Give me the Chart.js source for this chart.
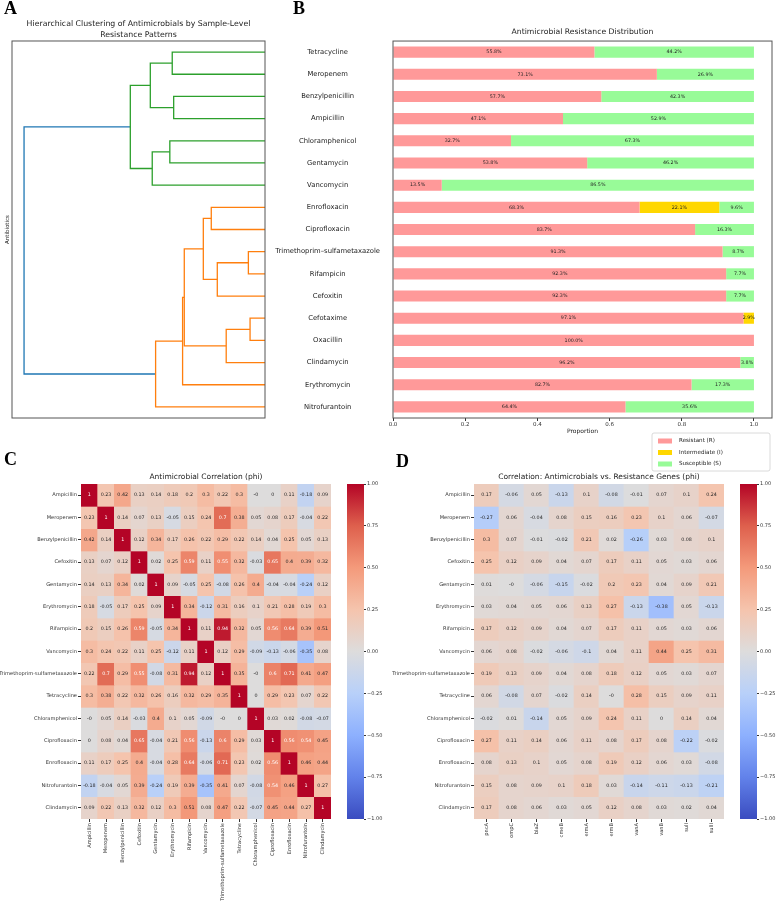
<!DOCTYPE html>
<html>
<head>
<meta charset="utf-8">
<title>Antimicrobial resistance figure</title>
<script src="https://cdn.jsdelivr.net/npm/chart.js@4.4.1/dist/chart.umd.min.js"></script>
<style>
  body { margin: 0; background: #fff; }
  #page { position: relative; width: 776px; height: 901px; overflow: hidden; }
  .panel { position: absolute; }
  .tag { position: absolute; font: bold 18px "Liberation Serif", "DejaVu Serif", serif; line-height: 1; color: #000; }
</style>
</head>
<body>
<div id="page">
  <div class="panel" style="left:0;top:0;width:275px;height:425px"><canvas id="dendro"></canvas></div>
  <div class="panel" style="left:270px;top:0;width:506px;height:480px"><canvas id="bars"></canvas></div>
  <div class="panel" style="left:0;top:440px;width:390px;height:461px"><canvas id="heatC"></canvas></div>
  <div class="panel" style="left:340px;top:440px;width:50px;height:461px"><canvas id="cbarC"></canvas></div>
  <div class="panel" style="left:390px;top:440px;width:386px;height:461px"><canvas id="heatD"></canvas></div>
  <div class="panel" style="left:733px;top:440px;width:43px;height:461px"><canvas id="cbarD"></canvas></div>
  <div class="tag" style="left:4px;top:-1px">A</div>
  <div class="tag" style="left:293px;top:-1px">B</div>
  <div class="tag" style="left:4px;top:450px">C</div>
  <div class="tag" style="left:396px;top:452px">D</div>
</div>
<script>
// panel A / B order (top to bottom)
const abxOrder = ['Tetracycline', 'Meropenem', 'Benzylpenicillin', 'Ampicillin', 'Chloramphenicol', 'Gentamycin',
  'Vancomycin', 'Enrofloxacin', 'Ciprofloxacin', 'Trimethoprim\u2013sulfametaxazole', 'Rifampicin', 'Cefoxitin',
  'Cefotaxime', 'Oxacillin', 'Clindamycin', 'Erythromycin', 'Nitrofurantoin'];
const resistantPct    = [55.8, 73.1, 57.7, 47.1, 32.7, 53.8, 13.5, 68.3, 83.7, 91.3, 92.3, 92.3, 97.1, 100.0, 96.2, 82.7, 64.4];
const intermediatePct = [0, 0, 0, 0, 0, 0, 0, 22.1, 0, 0, 0, 0, 2.9, 0, 0, 0, 0];
const susceptiblePct  = [44.2, 26.9, 42.3, 52.9, 67.3, 46.2, 86.5, 9.6, 16.3, 8.7, 7.7, 7.7, 0, 0, 3.8, 17.3, 35.6];
const propTicks = [0, 0.2, 0.4, 0.6, 0.8, 1.0];

// dendrogram merges: [left, right, height], leaves 0-16 follow abxOrder, new clusters get ids from 17
const merges = [
  [12, 13, 0.062], [9, 10, 0.069], [17, 14, 0.161], [18, 11, 0.198], [7, 8, 0.223],
  [21, 20, 0.256], [22, 19, 0.335], [23, 15, 0.342], [2, 3, 0.379], [0, 1, 0.385],
  [4, 5, 0.395], [24, 16, 0.454], [27, 6, 0.468], [26, 25, 0.476], [30, 29, 0.559], [31, 28, 1.0]
];
const mergeCluster = ['o', 'o', 'o', 'o', 'o', 'o', 'o', 'o', 'g', 'g', 'g', 'o', 'g', 'g', 'g', 'b'];

// panel C
const abxC = ['Ampicillin', 'Meropenem', 'Benzylpenicillin', 'Cefoxitin', 'Gentamycin', 'Erythromycin', 'Rifampicin',
  'Vancomycin', 'Trimethoprim-sulfametaxazole', 'Tetracycline', 'Chloramphenicol', 'Ciprofloxacin', 'Enrofloxacin',
  'Nitrofurantoin', 'Clindamycin'];
const phiC = [
  [1, 0.23, 0.42, 0.13, 0.14, 0.18, 0.2, 0.3, 0.22, 0.3, -0, 0, 0.11, -0.18, 0.09],
  [0.23, 1, 0.14, 0.07, 0.13, -0.05, 0.15, 0.24, 0.7, 0.38, 0.05, 0.08, 0.17, -0.04, 0.22],
  [0.42, 0.14, 1, 0.12, 0.34, 0.17, 0.26, 0.22, 0.29, 0.22, 0.14, 0.04, 0.25, 0.05, 0.13],
  [0.13, 0.07, 0.12, 1, 0.02, 0.25, 0.59, 0.11, 0.55, 0.32, -0.03, 0.65, 0.4, 0.39, 0.32],
  [0.14, 0.13, 0.34, 0.02, 1, 0.09, -0.05, 0.25, -0.08, 0.26, 0.4, -0.04, -0.04, -0.24, 0.12],
  [0.18, -0.05, 0.17, 0.25, 0.09, 1, 0.34, -0.12, 0.31, 0.16, 0.1, 0.21, 0.28, 0.19, 0.3],
  [0.2, 0.15, 0.26, 0.59, -0.05, 0.34, 1, 0.11, 0.94, 0.32, 0.05, 0.56, 0.64, 0.39, 0.51],
  [0.3, 0.24, 0.22, 0.11, 0.25, -0.12, 0.11, 1, 0.12, 0.29, -0.09, -0.13, -0.06, -0.35, 0.08],
  [0.22, 0.7, 0.29, 0.55, -0.08, 0.31, 0.94, 0.12, 1, 0.35, -0, 0.6, 0.71, 0.41, 0.47],
  [0.3, 0.38, 0.22, 0.32, 0.26, 0.16, 0.32, 0.29, 0.35, 1, 0, 0.29, 0.23, 0.07, 0.22],
  [-0, 0.05, 0.14, -0.03, 0.4, 0.1, 0.05, -0.09, -0, 0, 1, 0.03, 0.02, -0.08, -0.07],
  [0, 0.08, 0.04, 0.65, -0.04, 0.21, 0.56, -0.13, 0.6, 0.29, 0.03, 1, 0.56, 0.54, 0.45],
  [0.11, 0.17, 0.25, 0.4, -0.04, 0.28, 0.64, -0.06, 0.71, 0.23, 0.02, 0.56, 1, 0.46, 0.44],
  [-0.18, -0.04, 0.05, 0.39, -0.24, 0.19, 0.39, -0.35, 0.41, 0.07, -0.08, 0.54, 0.46, 1, 0.27],
  [0.09, 0.22, 0.13, 0.32, 0.12, 0.3, 0.51, 0.08, 0.47, 0.22, -0.07, 0.45, 0.44, 0.27, 1]
];

// panel D
const genes = ['pncA', 'ompC', 'blaZ', 'cmeB', 'ermA', 'ermB', 'vanA', 'vanB', 'sulI', 'sulII'];
const phiD = [
  [0.17, -0.06, 0.05, -0.13, 0.1, -0.08, -0.01, 0.07, 0.1, 0.24],
  [-0.27, 0.06, -0.04, 0.08, 0.15, 0.16, 0.23, 0.1, 0.06, -0.07],
  [0.3, 0.07, -0.01, -0.02, 0.21, 0.02, -0.26, 0.03, 0.08, 0.1],
  [0.25, 0.12, 0.09, 0.04, 0.07, 0.17, 0.11, 0.05, 0.03, 0.06],
  [0.01, -0, -0.06, -0.15, -0.02, 0.2, 0.23, 0.04, 0.09, 0.21],
  [0.03, 0.04, 0.05, 0.06, 0.13, 0.27, -0.13, -0.38, 0.05, -0.13],
  [0.17, 0.12, 0.09, 0.04, 0.07, 0.17, 0.11, 0.05, 0.03, 0.06],
  [0.06, 0.08, -0.02, -0.06, -0.1, 0.04, 0.11, 0.44, 0.25, 0.31],
  [0.19, 0.13, 0.09, 0.04, 0.08, 0.18, 0.12, 0.05, 0.03, 0.07],
  [0.06, -0.08, 0.07, -0.02, 0.14, -0, 0.28, 0.15, 0.09, 0.11],
  [-0.02, 0.01, -0.14, 0.05, 0.09, 0.24, 0.11, 0, 0.14, 0.04],
  [0.27, 0.11, 0.14, 0.06, 0.11, 0.08, 0.17, 0.08, -0.22, -0.02],
  [0.08, 0.13, 0.1, 0.05, 0.08, 0.19, 0.12, 0.06, 0.03, -0.08],
  [0.15, 0.08, 0.09, 0.1, 0.18, 0.03, -0.14, -0.11, -0.13, -0.21],
  [0.17, 0.08, 0.06, 0.03, 0.05, 0.12, 0.08, 0.03, 0.02, 0.04]
];
const cbarTicks = [-1, -0.75, -0.5, -0.25, 0, 0.25, 0.5, 0.75, 1];

Chart.defaults.font.family = '"DejaVu Sans", sans-serif';
Chart.defaults.color = '#222';

// coolwarm colormap
const cw = [[58, 76, 192], [98, 130, 234], [141, 176, 254], [184, 208, 249], [221, 220, 220],
  [245, 196, 173], [244, 154, 123], [222, 96, 77], [180, 4, 38]];
function coolwarm(v) {
  const t = (Math.max(-1, Math.min(1, v)) + 1) / 2 * 8;
  const i = Math.min(7, Math.floor(t)), f = t - i;
  return cw[i].map((a, k) => Math.round(a + (cw[i + 1][k] - a) * f));
}
const rgb = c => 'rgb(' + c.join(',') + ')';
function lum(c) {
  const l = c.map(x => { x /= 255; return x <= 0.03928 ? x / 12.92 : Math.pow((x + 0.055) / 1.055, 2.4); });
  return 0.2126 * l[0] + 0.7152 * l[1] + 0.0722 * l[2];
}
const fmt = v => Object.is(v, -0) ? '-0' : String(v);

const frame = {
  id: 'frame',
  afterDraw(chart) {
    const { ctx, chartArea: a } = chart;
    ctx.save();
    ctx.strokeStyle = '#555';
    ctx.lineWidth = 1;
    ctx.strokeRect(a.left, a.top, a.width, a.height);
    ctx.restore();
  }
};

// ---------- A: dendrogram ----------
const clusterColor = { o: '#ff7f0e', g: '#2ca02c', b: '#1f77b4' };
const nodes = abxOrder.map((_, i) => ({ y: i + 0.5, h: 0 }));
const links = merges.map(([l, r, h], k) => {
  const L = nodes[l], R = nodes[r];
  nodes.push({ y: (L.y + R.y) / 2, h: h });
  return {
    data: [{ x: L.h, y: L.y }, { x: h, y: L.y }, { x: h, y: R.y }, { x: R.h, y: R.y }],
    borderColor: clusterColor[mergeCluster[k]],
    showLine: true, fill: false
  };
});

new Chart(document.getElementById('dendro'), {
  type: 'scatter',
  data: { datasets: links },
  options: {
    responsive: true, maintainAspectRatio: false, animation: false,
    layout: { padding: { top: 18.5, right: 10, bottom: 7, left: 0 } },
    elements: { point: { radius: 0 }, line: { borderWidth: 1.3, tension: 0 } },
    plugins: {
      legend: { display: false }, tooltip: { enabled: false },
      title: {
        display: true, fullSize: false, color: '#222',
        text: ['Hierarchical Clustering of Antimicrobials by Sample-Level', 'Resistance Patterns'],
        font: { size: 7.8, weight: 'normal', lineHeight: 1.41 }, padding: { top: 0, bottom: 0.5 }
      }
    },
    scales: {
      x: { type: 'linear', display: false, reverse: true, min: 0, max: 1.05 },
      y: {
        type: 'linear', min: 0, max: abxOrder.length, reverse: true,
        ticks: { display: false }, grid: { display: false }, border: { display: false },
        title: { display: true, text: 'Antibiotics', font: { size: 5.5 }, padding: { top: 4, bottom: 0 } },
        afterFit: s => { s.width = 12; }
      }
    }
  },
  plugins: [frame]
});

// ---------- B: stacked bars ----------
const pctLabels = {
  id: 'pctLabels',
  afterDatasetsDraw(chart) {
    const ctx = chart.ctx;
    ctx.save();
    ctx.font = '4.8px "DejaVu Sans"';
    ctx.fillStyle = '#222';
    ctx.textAlign = 'center';
    ctx.textBaseline = 'middle';
    chart.data.datasets.forEach((ds, i) => {
      chart.getDatasetMeta(i).data.forEach((el, j) => {
        if (ds.pct[j] > 0) {
          const p = el.getCenterPoint();
          ctx.fillText(ds.pct[j].toFixed(1) + '%', p.x, p.y);
        }
      });
    });
    ctx.restore();
  }
};
const legendBox = {
  id: 'legendBox',
  afterDraw(chart) {
    const { ctx, chartArea: a } = chart;
    const w = 118, h = 38, x0 = a.right - 120, y0 = a.bottom + 15;
    ctx.save();
    ctx.fillStyle = 'rgba(255,255,255,0.9)';
    ctx.strokeStyle = '#d0d0d0';
    ctx.lineWidth = 0.8;
    ctx.beginPath();
    ctx.roundRect(x0, y0, w, h, 2);
    ctx.fill();
    ctx.stroke();
    ctx.font = '5.6px "DejaVu Sans"';
    ctx.textBaseline = 'middle';
    chart.data.datasets.forEach((ds, i) => {
      const y = y0 + 8 + i * 11.5;
      ctx.fillStyle = ds.backgroundColor;
      ctx.fillRect(x0 + 6, y - 2.5, 14, 5);
      ctx.fillStyle = '#222';
      ctx.fillText(ds.label, x0 + 27, y);
    });
    ctx.restore();
  }
};

new Chart(document.getElementById('bars'), {
  type: 'bar',
  data: {
    labels: abxOrder,
    datasets: [
      { label: 'Resistant (R)', pct: resistantPct, data: resistantPct.map(v => v / 100), backgroundColor: '#ff9999' },
      { label: 'Intermediate (I)', pct: intermediatePct, data: intermediatePct.map(v => v / 100), backgroundColor: '#ffd700' },
      { label: 'Susceptible (S)', pct: susceptiblePct, data: susceptiblePct.map(v => v / 100), backgroundColor: '#98fb98' }
    ]
  },
  options: {
    indexAxis: 'y', responsive: true, maintainAspectRatio: false, animation: false,
    layout: { padding: { top: 27.4, right: 4, bottom: 45.4, left: 0 } },
    datasets: { bar: { barPercentage: 0.5, categoryPercentage: 1, borderWidth: 0 } },
    plugins: {
      legend: { display: false }, tooltip: { enabled: false },
      title: {
        display: true, fullSize: false, color: '#222', text: 'Antimicrobial Resistance Distribution',
        font: { size: 7.7, weight: 'normal' }, padding: { top: 0, bottom: 4.4 }
      }
    },
    scales: {
      x: {
        stacked: true, min: 0, max: 1.05,
        afterBuildTicks: s => { s.ticks = propTicks.map(v => ({ value: v })); },
        ticks: { callback: v => v.toFixed(1), font: { size: 5.5 }, padding: 0, color: '#333' },
        grid: { drawOnChartArea: false, tickLength: 3, color: '#333' }, border: { display: false },
        title: { display: true, text: 'Proportion', font: { size: 6 }, padding: { top: 0, bottom: 0 } },
        afterFit: s => { s.height = 16.6; }
      },
      y: {
        stacked: true,
        ticks: { crossAlign: 'center', padding: 5, font: { size: 6.8 }, color: '#222', autoSkip: false },
        grid: { display: false }, border: { display: false },
        afterFit: s => { s.width = 123; }
      }
    }
  },
  plugins: [frame, pctLabels, legendBox]
});

// ---------- C / D: heatmaps ----------
const cellText = {
  id: 'cellText',
  afterDatasetsDraw(chart) {
    const ctx = chart.ctx;
    ctx.save();
    ctx.font = '4.8px "DejaVu Sans"';
    ctx.textAlign = 'center';
    ctx.textBaseline = 'middle';
    chart.data.datasets.forEach((ds, i) => {
      chart.getDatasetMeta(i).data.forEach((el, j) => {
        const v = ds.values[j];
        const p = el.getCenterPoint();
        ctx.fillStyle = lum(coolwarm(v)) > 0.408 ? '#262626' : '#ffffff';
        ctx.fillText(fmt(v), p.x, p.y);
      });
    });
    ctx.restore();
  }
};

function heatmap(id, rows, cols, matrix, title, yWidth, rightPad) {
  return new Chart(document.getElementById(id), {
    type: 'bar',
    data: {
      labels: cols,
      datasets: rows.map((r, i) => ({
        label: r,
        values: matrix[i],
        data: cols.map(() => [i, i + 1]),
        backgroundColor: matrix[i].map(v => rgb(coolwarm(v)))
      }))
    },
    options: {
      responsive: true, maintainAspectRatio: false, animation: false,
      layout: { padding: { top: 33, right: rightPad, bottom: 0, left: 0 } },
      datasets: { bar: { grouped: false, barPercentage: 1, categoryPercentage: 1, borderWidth: 0 } },
      plugins: {
        legend: { display: false }, tooltip: { enabled: false },
        title: {
          display: true, fullSize: false, color: '#222', text: title,
          font: { size: 7.5, weight: 'normal' }, padding: { top: 0, bottom: 2 }
        }
      },
      scales: {
        x: {
          ticks: { autoSkip: false, minRotation: 90, maxRotation: 90, font: { size: 5.1 }, padding: 1, color: '#333' },
          grid: { drawOnChartArea: false, offset: false, tickLength: 3, color: '#333' }, border: { display: false },
          afterFit: s => { s.height = 82; }
        },
        y: {
          min: 0, max: rows.length, reverse: true,
          afterBuildTicks: s => { s.ticks = rows.map((_, i) => ({ value: i + 0.5 })); },
          ticks: { autoSkip: false, callback: (v, i) => rows[i], font: { size: 5.1 }, padding: 1, color: '#333' },
          grid: { drawOnChartArea: false, tickLength: 3, color: '#333' }, border: { display: false },
          afterFit: s => { s.width = yWidth; }
        }
      }
    },
    plugins: [cellText]
  });
}

function colorbar(id, axisWidth) {
  return new Chart(document.getElementById(id), {
    type: 'bar',
    data: {
      labels: [''],
      datasets: [{
        data: [[-1, 1]], borderWidth: 0, barPercentage: 1, categoryPercentage: 1,
        backgroundColor: c => {
          const a = c.chart.chartArea;
          if (!a) return '#ddd';
          const g = c.chart.ctx.createLinearGradient(0, a.bottom, 0, a.top);
          cw.forEach((col, k) => g.addColorStop(k / (cw.length - 1), rgb(col)));
          return g;
        }
      }]
    },
    options: {
      responsive: true, maintainAspectRatio: false, animation: false,
      layout: { padding: { top: 44, right: 0, bottom: 82, left: 7 } },
      plugins: { legend: { display: false }, tooltip: { enabled: false } },
      scales: {
        x: { display: false },
        y: {
          position: 'right', min: -1, max: 1,
          afterBuildTicks: s => { s.ticks = cbarTicks.map(v => ({ value: v })); },
          ticks: { callback: v => v.toFixed(2).replace('-', '\u2212'), font: { size: 5 }, padding: 1, color: '#333' },
          grid: { drawOnChartArea: false, tickLength: 2, color: '#333' }, border: { display: false },
          afterFit: s => { s.width = axisWidth; }
        }
      }
    }
  });
}

heatmap('heatC', abxC, abxC, phiC, 'Antimicrobial Correlation (phi)', 81, 59);
colorbar('cbarC', 26);
heatmap('heatD', abxC, genes, phiD, 'Correlation: Antimicrobials vs. Resistance Genes (phi)', 84, 52);
colorbar('cbarD', 19);
</script>
</body>
</html>
